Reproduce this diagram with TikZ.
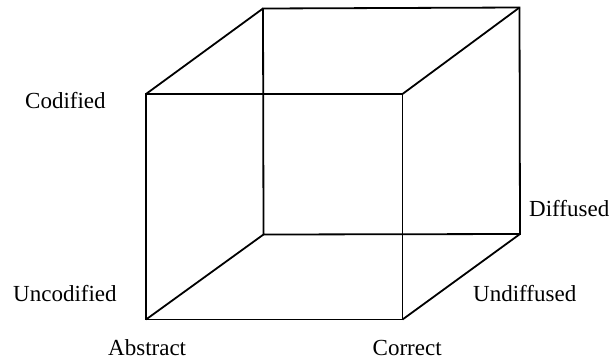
\documentclass[tikz,border=0pt]{standalone}
\usepackage{fontspec}
\setmainfont{Liberation Serif}
\begin{document}
\begin{tikzpicture}[x=1pt,y=-1pt,
  edge/.style={draw=black,line width=1.8pt,line join=miter},
  lbl/.style={inner sep=0pt,anchor=base west,font=\fontsize{23}{27}\selectfont}]
\useasboundingbox (0,0) rectangle (613,360);
% cube corners
\coordinate (ftl) at (146,94);
\coordinate (ftr) at (402.5,94);
\coordinate (fbl) at (146,319.5);
\coordinate (fbr) at (402.5,319.5);
\coordinate (btl) at (263,8.5);
\coordinate (btr) at (519.5,7.5);
\coordinate (bbl) at (263.5,234.5);
\coordinate (bbr) at (520,234);
% faces
\draw[edge] (ftl) -- (ftr) -- (fbr) -- (fbl) -- cycle;
\draw[edge] (btl) -- (btr) -- (bbr) -- (bbl) -- cycle;
\draw[edge] (ftl) -- (btl);
\draw[edge] (ftr) -- (btr);
\draw[edge] (fbl) -- (bbl);
\draw[edge] (fbr) -- (bbr);
% labels
\node[lbl] (codified) at (25,108) {Codified};
\node[lbl] (uncodified) at (13,301) {Uncodified};
\node[lbl] (abstract) at (108,355.5) {Abstract};
\node[lbl] (correct) at (372.5,355.5) {Correct};
\node[lbl] (diffused) at (529,216.5) {Diffused};
\node[lbl] (undiffused) at (473,301.5) {Undiffused};
\end{tikzpicture}
\end{document}
